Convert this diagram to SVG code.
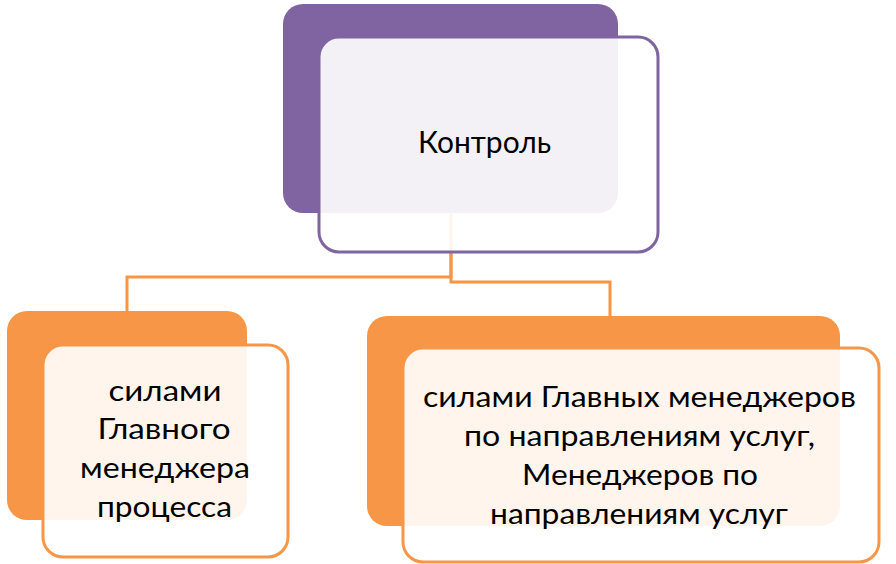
<svg xmlns="http://www.w3.org/2000/svg" width="896" height="564" viewBox="0 0 896 564">
<style>
.conn{fill:none;stroke:#F79646;stroke-width:3}
.backP{fill:#8064A2}
.frontP{fill:#FFFFFF;fill-opacity:0.9;stroke:#8064A2;stroke-width:3}
.backO{fill:#F79646}
.frontO{fill:#FFFFFF;fill-opacity:0.9;stroke:#F79646;stroke-width:3}
text{font-family:Lato,"Liberation Sans",sans-serif;fill:#000;text-anchor:middle}
.t1{font-size:30px}
.t2{font-size:29px}
</style>
<rect width="896" height="564" fill="#FFFFFF"/>
<g id="connectors">
<polyline class="conn" points="451,213 451,277 127,277 127,311"/>
<polyline class="conn" points="451,213 451,282 610,282 610,316"/>
</g>
<g id="node-kontrol">
<rect class="backP" x="283" y="4" width="335" height="209" rx="20"/>
<rect class="frontP" x="319" y="37" width="339" height="215" rx="20"/>
<text class="t1" x="484.5" y="153" textLength="133" lengthAdjust="spacingAndGlyphs">Контроль</text>
</g>
<g id="node-left">
<rect class="backO" x="7" y="311" width="240" height="209" rx="20"/>
<rect class="frontO" x="43" y="345" width="245" height="212" rx="20"/>
<text class="t2" x="165" y="401" textLength="113" lengthAdjust="spacingAndGlyphs">силами</text>
<text class="t2" x="164" y="439" textLength="133" lengthAdjust="spacingAndGlyphs">Главного</text>
<text class="t2" x="165" y="478" textLength="170" lengthAdjust="spacingAndGlyphs">менеджера</text>
<text class="t2" x="164.5" y="517" textLength="135" lengthAdjust="spacingAndGlyphs">процесса</text>
</g>
<g id="node-right">
<rect class="backO" x="367" y="316" width="473" height="210" rx="20"/>
<rect class="frontO" x="403" y="348" width="476" height="214" rx="20"/>
<text class="t2" x="639.5" y="407" textLength="433" lengthAdjust="spacingAndGlyphs">силами Главных менеджеров</text>
<text class="t2" x="639.5" y="446" textLength="351" lengthAdjust="spacingAndGlyphs">по направлениям услуг,</text>
<text class="t2" x="640" y="485" textLength="236" lengthAdjust="spacingAndGlyphs">Менеджеров по</text>
<text class="t2" x="639" y="524" textLength="298" lengthAdjust="spacingAndGlyphs">направлениям услуг</text>
</g>
</svg>
